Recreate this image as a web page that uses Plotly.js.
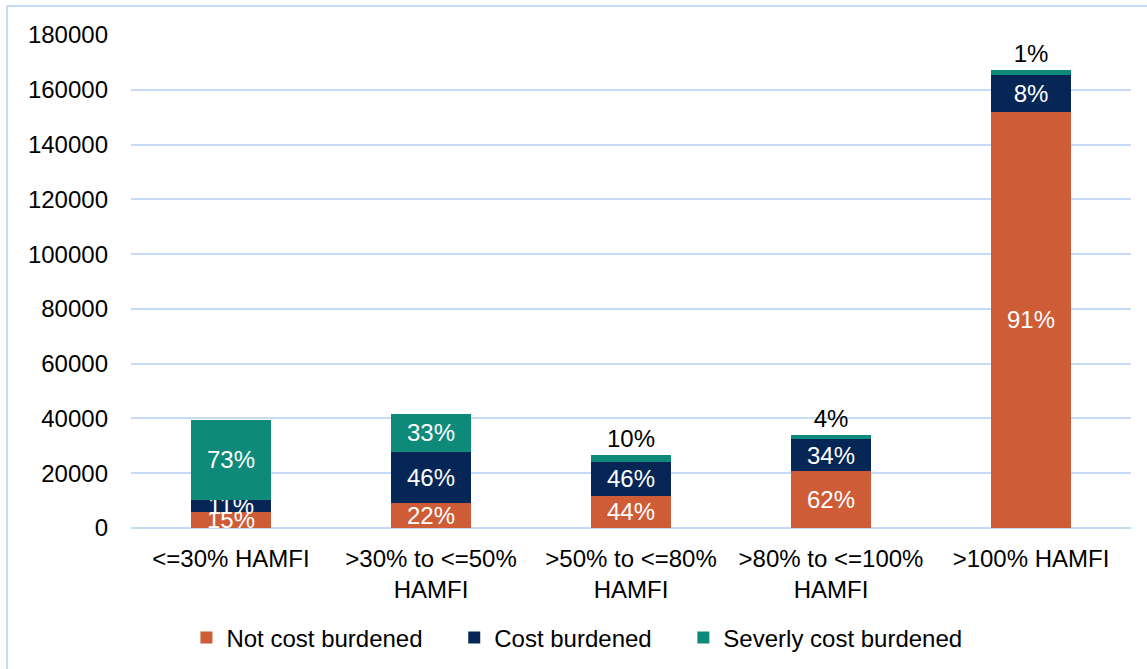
<!DOCTYPE html>
<html>
<head>
<meta charset="utf-8">
<script src="https://cdn.plot.ly/plotly-3.0.1.min.js"></script>
<style>
  html, body { margin: 0; padding: 0; background: #fff; }
  #wrap { position: relative; width: 1147px; height: 669px; overflow: hidden; }
  #frame { position: absolute; left: 6px; top: 5px; width: 1160px; height: 680px; border: 2px solid #c5dbf7; box-sizing: border-box; pointer-events: none; }
  #chart { position: absolute; left: 0; top: 0; width: 1147px; height: 669px; }
</style>
</head>
<body>
<div id="wrap">
  <div id="chart"></div>
  <div id="frame"></div>
</div>
<script>
const categories = ["<=30% HAMFI", ">30% to <=50%<br>HAMFI", ">50% to <=80%<br>HAMFI", ">80% to <=100%<br>HAMFI", ">100% HAMFI"];
const seriesNames = ["Not cost burdened", "Cost burdened", "Severly cost burdened"];
const notCostBurdened = [5900, 9100, 11700, 20900, 151900];
const costBurdened = [4400, 18800, 12400, 11500, 13600];
const severelyCostBurdened = [29100, 13600, 2700, 1400, 1700];
const notCostLabels = ["15%", "22%", "44%", "62%", "91%"];
const costLabels = ["11%", "46%", "46%", "34%", "8%"];
const severeLabels = ["73%", "33%", "10%", "4%", "1%"];
const yTicks = [0, 20000, 40000, 60000, 80000, 100000, 120000, 140000, 160000, 180000];

const FONT = "Liberation Sans, Arial, sans-serif";
const SIZE = 24;
const PAD = "\u00a0\u00a0\u00a0\u00a0";
const common = {
  type: "bar",
  x: categories,
  textangle: 0,
  constraintext: "none",
  insidetextanchor: "middle",
  cliponaxis: false,
  hoverinfo: "skip"
};

const traces = [
  Object.assign({}, common, {
    name: seriesNames[0] + PAD,
    y: notCostBurdened,
    text: notCostLabels,
    textposition: "inside",
    textfont: { color: "#ffffff", size: SIZE, family: FONT },
    marker: { color: "#cd5c37", line: { width: 0 } }
  }),
  Object.assign({}, common, {
    name: seriesNames[1] + PAD,
    y: costBurdened,
    text: costLabels,
    textposition: "inside",
    textfont: { color: "#ffffff", size: SIZE, family: FONT },
    marker: { color: "#062656", line: { width: 0 } }
  }),
  Object.assign({}, common, {
    name: seriesNames[2],
    y: severelyCostBurdened,
    text: severeLabels,
    textposition: ["inside", "inside", "outside", "outside", "outside"],
    textfont: { color: ["#ffffff", "#ffffff", "#000000", "#000000", "#000000"], size: SIZE, family: FONT },
    marker: { color: "#0e8a7a", line: { width: 0 } }
  })
];

const layout = {
  width: 1147,
  height: 669,
  barmode: "stack",
  bargap: 0.6,
  margin: { l: 131, r: 16, t: 35, b: 141 },
  paper_bgcolor: "#ffffff",
  plot_bgcolor: "#ffffff",
  font: { family: FONT, size: SIZE, color: "#000000" },
  showlegend: true,
  legend: {
    orientation: "h",
    traceorder: "normal",
    xref: "container",
    yref: "container",
    x: 0.503,
    xanchor: "center",
    y: (669 - 638) / 669,
    yanchor: "middle",
    font: { family: FONT, size: SIZE, color: "#000000" },
    itemwidth: 30,
    bgcolor: "rgba(0,0,0,0)"
  },
  xaxis: {
    type: "category",
    showgrid: false,
    showline: false,
    ticks: "",
    ticklabelstandoff: 14,
    tickfont: { family: FONT, size: SIZE, color: "#000000" },
    automargin: false
  },
  yaxis: {
    range: [0, 180000],
    tickvals: yTicks,
    ticktext: yTicks.map(String),
    showgrid: true,
    gridcolor: "#c5dbf7",
    gridwidth: 2,
    zeroline: true,
    zerolinecolor: "#c5dbf7",
    zerolinewidth: 2,
    showline: false,
    ticks: "",
    ticklabelstandoff: 22,
    tickfont: { family: FONT, size: SIZE, color: "#000000" },
    automargin: false
  }
};

Plotly.newPlot("chart", traces, layout, { displayModeBar: false, staticPlot: true });
</script>
</body>
</html>
